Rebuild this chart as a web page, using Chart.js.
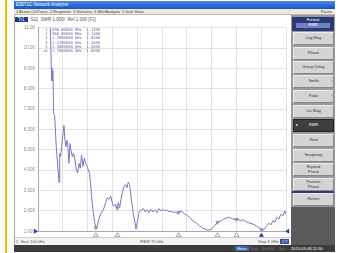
<!DOCTYPE html>
<html><head><meta charset="utf-8">
<script src="https://cdn.jsdelivr.net/npm/chart.js@4/dist/chart.umd.min.js"></script>
<style>
html,body{margin:0;padding:0}
body{width:338px;height:253px;background:#fff;position:relative;overflow:hidden;font-family:"Liberation Sans",Arial,sans-serif}
.a{position:absolute;white-space:nowrap}
#ybar{left:5px;top:0;width:2px;height:253px;background:#f5c200}
#title{left:14px;top:1px;width:321px;height:8px;background:linear-gradient(#4a86e8,#1a52c8);color:#fff;font-size:4.5px;line-height:8px;padding-left:2px;box-sizing:border-box}
#menu{left:14px;top:9px;width:321px;height:6px;background:#ece9d8;font-size:4px;line-height:6px;color:#444;padding-left:2px;box-sizing:border-box;border-bottom:1px solid #bbb}
#main{left:14px;top:15px;width:277px;height:230px;background:#fff;border-left:1px solid #aaa;box-sizing:border-box}
#panel{left:291px;top:15px;width:44px;height:230px;background:#9a9a9a}
#lower{left:291px;top:207px;width:44px;height:38px;background:#5a5a5a}
.btn{position:absolute;left:2px;width:41px;height:13px;background:#d4d4d4;border:1px solid #ececec;border-right-color:#888;border-bottom-color:#888;box-sizing:border-box;font-size:4px;color:#333;display:flex;align-items:center;justify-content:center;text-align:center;line-height:4.5px}
#fmt{position:absolute;left:1px;top:2px;width:42px;height:14px;background:#2c3a78;color:#fff;font-size:4px;text-align:center;line-height:5px}
#fmt span{display:block;margin:1px 4px;background:#7080c0;line-height:4.5px}
#bar{left:14px;top:245px;width:321px;height:7px;background:#3c3c3c;color:#ddd;font-size:4px;line-height:7px}
#status{left:15px;top:237px;width:276px;height:7px;font-size:4px;line-height:7px;color:#555;border-top:1px solid #ccc;background:#f2f2f2}
#hdr{left:15px;top:17px;font-size:4.5px;color:#555;line-height:5px}
#hdr b{background:#1f3c8c;color:#fff;font-weight:normal;padding:0 3px;margin-right:3px}
#mk{left:43px;top:28px;font-size:3.8px;line-height:4.2px;color:#6060a0;font-family:"DejaVu Sans Mono",monospace}
canvas{position:absolute;left:15px;top:22px}
</style></head>
<body>
<div class="a" id="ybar"></div>
<div class="a" id="title">E5071C Network Analyzer</div>
<div class="a" id="menu">1 Active Ch/Trace &nbsp;2 Response &nbsp;3 Stimulus &nbsp;4 Mkr/Analysis &nbsp;5 Instr State<span style="position:absolute;right:3px">Pause</span></div>
<div class="a" id="main"></div>
<div class="a" id="hdr"><b>Tr1</b>S11 &nbsp;SWR 1.000/ &nbsp;Ref 1.000 [F1]</div>
<div class="a" id="panel">
 <div id="fmt">Format<span>SWR</span></div>
 <div class="btn" style="top:17px">Log Mag</div>
 <div class="btn" style="top:32px">Phase</div>
 <div class="btn" style="top:46px">Group Delay</div>
 <div class="btn" style="top:60px">Smith<span style="position:absolute;right:1px">›</span></div>
 <div class="btn" style="top:75px">Polar<span style="position:absolute;right:1px">›</span></div>
 <div class="btn" style="top:90px">Lin Mag</div>
 <div class="btn" style="top:104px;background:#3e3e3e;color:#fff;border-color:#222">SWR<span style="position:absolute;left:2px">▸</span></div>
 <div class="btn" style="top:119px">Real</div>
 <div class="btn" style="top:134px">Imaginary</div>
 <div class="btn" style="top:148px">Expand<br>Phase</div>
 <div class="btn" style="top:163px">Positive<br>Phase</div>
 <div style="position:absolute;left:1px;top:176px;width:42px;height:2px;background:#2c3a78"></div>
 <div class="btn" style="top:178px">Return</div>
</div>
<div class="a" id="lower"></div>
<div class="a" id="status"><span style="position:absolute;left:1px">1 &nbsp;Start 100 kHz</span><span style="position:absolute;left:125px">IFBW 70 kHz</span><span style="position:absolute;left:243px">Stop 3 GHz</span><span style="position:absolute;left:265px;top:1px;height:5px;line-height:5px;padding:0 2px;background:#3050a0;color:#fff">C?</span></div>
<div class="a" id="bar"><span style="position:absolute;left:221px;top:1px;height:5px;line-height:5px;padding:0 2px;background:#4060b0;color:#fff">Meas</span><span style="position:absolute;left:236px;color:#777">Stop</span><span style="position:absolute;left:248px;color:#777">ExtRef</span><span style="position:absolute;left:265px;color:#777">Svc</span><span style="position:absolute;left:277px;color:#fff">2013-09-08 12:50</span></div>
<canvas id="c" width="276" height="215"></canvas>
<div class="a" id="mk"></div>
<script>
// Frequencies in MHz, SWR values
const freqMHz = [0.1,140,149,161,169,181,189,201,221,254,262,274,286,302,314,326,338,350,362,374,387,399,415,431,447,463,479,495,511,527,544,560,576,592,608,624,644,664,685,705,717,737,765,793,817,838,858,878,898,914,938,954,970,987,1003,1019,1039,1059,1075,1091,1107,1123,1140,1156,1172,1184,1200,1216,1232,1252,1276,1297,1317,1341,1365,1389,1413,1438,1462,1486,1510,1534,1558,1583,1607,1631,1655,1679,1703,1727,1752,1776,1800,1832,1872,1913,1953,1993,2033,2066,2098,2134,2162,2195,2235,2275,2315,2356,2388,2416,2444,2476,2517,2557,2597,2638,2670,2718,2742,2766,2791,2815,2839,2863,2887,2911,2936,2960,2984,3000];
const swr = [25,14,11.0,9.03,8.38,8.87,6.77,6.69,5.15,3.41,4.83,4.67,5.15,5.80,6.20,5.47,5.15,5.47,5.15,4.34,5.31,4.99,4.67,4.83,4.51,4.02,3.86,4.34,4.10,4.75,4.18,4.59,4.34,4.18,4.02,3.86,2.89,2.08,1.44,1.11,1.27,1.60,1.92,2.08,2.41,2.65,2.57,2.73,2.41,2.24,2.32,2.11,2.41,2.16,2.57,2.89,3.21,3.29,3.13,3.41,3.29,2.73,2.24,1.76,1.44,1.11,1.44,1.84,2.00,2.05,2.11,1.95,2.05,1.92,2.08,1.95,2.05,1.92,2.11,2.00,2.08,2.00,2.05,1.95,2.00,1.92,1.95,1.89,1.92,2.00,1.92,1.84,1.79,1.68,1.52,1.40,1.27,1.15,1.08,1.06,1.11,1.27,1.40,1.47,1.57,1.65,1.69,1.60,1.57,1.60,1.52,1.57,1.47,1.40,1.36,1.27,1.19,1.03,1.15,1.27,1.40,1.31,1.52,1.44,1.68,1.60,1.84,1.76,2.00,1.84];
const markerNames = ["1","2","3","4","5",">6"];
const markerMHz = [698,960,1700,2170,2400,2700];
const markerSWR = [1.17,2.13,1.92,1.44,1.58,1.08];
const markerText = ["698.00000 MHz","960.00000 MHz","1.7000000 GHz","2.1700000 GHz","2.4000000 GHz","2.7000000 GHz"];
const yTickLabels = ["1.000","2.000","3.000","4.000","5.000","6.000","7.000","8.000","9.000","10.00","11.00"];
const startMHz = 0.1, stopMHz = 3000, yMin = 1, yMax = 11;

document.getElementById('mk').innerHTML = markerNames.map((n,i)=>
  n.padStart(2,' ').replace(/ /g,'&nbsp;')+'&nbsp;&nbsp;'+markerText[i]+'&nbsp;&nbsp;'+markerSWR[i].toFixed(4)).join('<br>');

const deco = {
  id:'deco',
  afterDatasetsDraw(chart){
    const {ctx, chartArea:a, scales:{x,y}} = chart;
    ctx.save();
    markerMHz.forEach((f,i)=>{
      const px = x.getPixelForValue(f), py = a.bottom+1.5;
      ctx.beginPath();ctx.moveTo(px,py);ctx.lineTo(px-2.5,py+4);ctx.lineTo(px+2.5,py+4);ctx.closePath();
      if(i===markerMHz.length-1){ctx.fillStyle='#20308a';ctx.fill();}
      else{ctx.strokeStyle='#888';ctx.lineWidth=0.8;ctx.stroke();}
    });
    const ry = y.getPixelForValue(yMin);
    ctx.fillStyle='#2040b0';
    ctx.beginPath();ctx.moveTo(a.left-4,ry-2.5);ctx.lineTo(a.left,ry);ctx.lineTo(a.left-4,ry+2.5);ctx.closePath();ctx.fill();
    ctx.beginPath();ctx.moveTo(a.right+3,ry-2.5);ctx.lineTo(a.right-1,ry);ctx.lineTo(a.right+3,ry+2.5);ctx.closePath();ctx.fill();
    ctx.restore();
  }
};

new Chart(document.getElementById('c'),{
  type:'line',
  data:{datasets:[
    {data:freqMHz.map((f,i)=>({x:f,y:swr[i]})),borderColor:'#7a7abf',borderWidth:1,pointRadius:0,tension:0},
    {data:markerMHz.map((f,i)=>({x:f,y:markerSWR[i]})),showLine:false,pointStyle:'triangle',rotation:180,pointRadius:2,borderColor:'#7a7abf',backgroundColor:'rgba(0,0,0,0)',borderWidth:0.8}
  ]},
  options:{
    animation:false,responsive:false,
    layout:{padding:{top:4,right:4,bottom:5,left:0}},
    plugins:{legend:{display:false},tooltip:{enabled:false}},
    scales:{
      x:{type:'linear',min:startMHz,max:stopMHz,
        afterBuildTicks:s=>{s.ticks=Array.from({length:11},(_,i)=>({value:startMHz+i*(stopMHz-startMHz)/10}));},
        afterFit:s=>{s.height=0;},
        ticks:{display:false},
        grid:{color:'#e2e2e2',lineWidth:1,drawTicks:false},
        border:{color:'#aaa'}},
      y:{min:yMin,max:yMax,
        afterBuildTicks:s=>{s.ticks=yTickLabels.map((_,i)=>({value:yMin+i}));},
        afterFit:s=>{s.width=23;},
        ticks:{padding:3,color:'#888',font:{size:4.5,family:'Liberation Sans'},callback:(v)=>yTickLabels[Math.round(v-yMin)]},
        grid:{color:'#e2e2e2',lineWidth:1,drawTicks:false},
        border:{color:'#aaa'}}
    }
  },
  plugins:[deco]
});
</script>
</body></html>
